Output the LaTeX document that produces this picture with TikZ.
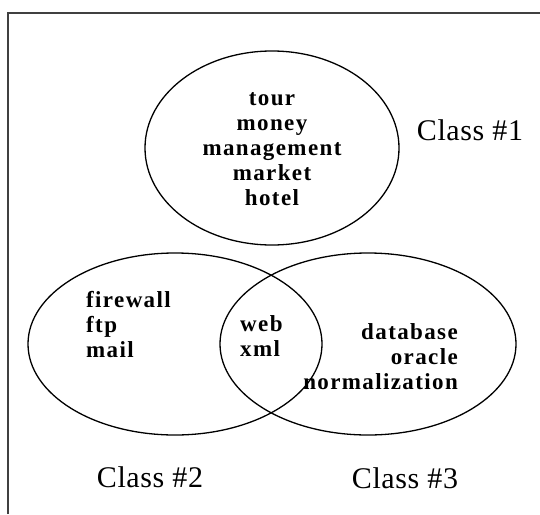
\documentclass[tikz,border=0pt]{standalone}
\usepackage{fontspec}
\setmainfont{Liberation Serif}
\newfontfamily\wordfont[LetterSpace=6]{Liberation Serif}
\newfontfamily\classfont[LetterSpace=2]{Liberation Serif}

\begin{document}
\begin{tikzpicture}[x=1pt,y=-1pt,
    words/.style={font=\wordfont\bfseries\fontsize{23}{25}\selectfont,inner sep=0pt},
    classname/.style={font=\classfont\fontsize{30}{32}\selectfont,inner sep=0pt},
    set/.style={line width=1.3pt}]
                \useasboundingbox (0,0) rectangle (540,514);
                \draw[line width=2pt,black!75] (7.5,514) -- (7.5,12.5) -- (540,12.5);
                % the three classes
                \draw[set] (272,148) ellipse [x radius=127, y radius=97];
                \draw[set] (175,344) ellipse [x radius=147, y radius=91];
                \draw[set] (368,344) ellipse [x radius=148, y radius=91];
                \node[words,align=center] (top) at (272,149) {tour\\money\\management\\market\\hotel};
                \node[words,align=left,anchor=west] (left) at (86,325) {firewall\\ftp\\mail};
                \node[words,align=left,anchor=west] (mid) at (240,336) {web\\xml};
                \node[words,align=right,anchor=east] (right) at (458,357) {database\\oracle\\normalization};
                \node[classname] (c1) at (470,130) {Class \#1};
                \node[classname] (c2) at (150,477) {Class \#2};
                \node[classname] (c3) at (405,478) {Class \#3};
            \end{tikzpicture}
\end{document}
